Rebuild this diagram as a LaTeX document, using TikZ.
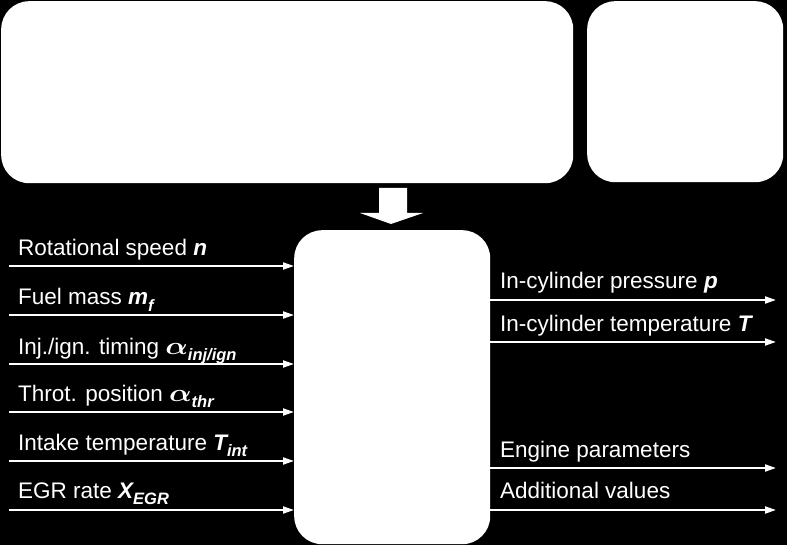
\documentclass[tikz,border=0pt]{standalone}
\usepackage{graphicx}
\usepackage{fontspec}
\setmainfont{Liberation Sans}
\usetikzlibrary{arrows.meta}
\newcommand{\lowsub}[1]{\raisebox{-0.3em}{\fontsize{16.5bp}{16.5bp}\selectfont\bfseries\itshape #1}}
\newcommand{\bvar}[1]{{\bfseries\itshape #1}}
\newcommand{\galpha}{{\fontsize{24bp}{24bp}\selectfont\boldmath\scalebox{1.2}[1]{$\alpha$}}}
\begin{document}
\begin{tikzpicture}[x=1bp,y=-1bp,
  box/.style={fill=white,draw=none,rounded corners=28bp,inner sep=0pt,anchor=north west},
  lbl/.style={text=white,anchor=base west,inner sep=0pt,font=\fontsize{22.5bp}{27bp}\selectfont},
  flow/.style={draw=white,line width=2bp,-{Triangle[length=11bp,width=7bp]}}]
\fill[black] (0,0) rectangle (787,545);
\useasboundingbox (0,0) rectangle (787,545);
% boxes
\node[box,minimum width=572bp,minimum height=182bp] (top) at (1,1) {};
\node[box,minimum width=196bp,minimum height=181bp] (side) at (587,1) {};
\node[box,minimum width=196bp,minimum height=314bp] (core) at (294,230) {};
% block arrow
\fill[white] (379,188) -- (407,188) -- (407,213) -- (423,213) -- (391,224) -- (360,213) -- (379,213) -- cycle;
% inputs
\foreach \i/\yl/\ya/\t in {1/256/266/{Rotational speed \bvar{n}},
  2/305/315/{Fuel mass \bvar{m}\lowsub{f}},
  3/354/364/{Inj./ign. timing \galpha\lowsub{inj/ign}},
  4/401/412/{Throt. position \galpha\lowsub{thr}},
  5/450/461/{Intake temperature \bvar{T}\lowsub{int}},
  6/498/510/{EGR rate \bvar{X}\lowsub{EGR}}}{
  \node[lbl] (inlbl\i) at (18,\yl) {\t};
  \coordinate (in\i) at (9,\ya);
  \draw[flow] (in\i) -- (in\i -| core.west);
}
% outputs
\foreach \i/\yl/\ya/\t in {1/289/300/{In-cylinder pressure \bvar{p}},
  2/331/342/{In-cylinder temperature \bvar{T}},
  3/457/468/{Engine parameters},
  4/498/510/{Additional values}}{
  \node[lbl] (outlbl\i) at (500,\yl) {\t};
  \coordinate (out\i) at (776,\ya);
  \draw[flow] (out\i -| core.east) -- (out\i);
}
\end{tikzpicture}
\end{document}
